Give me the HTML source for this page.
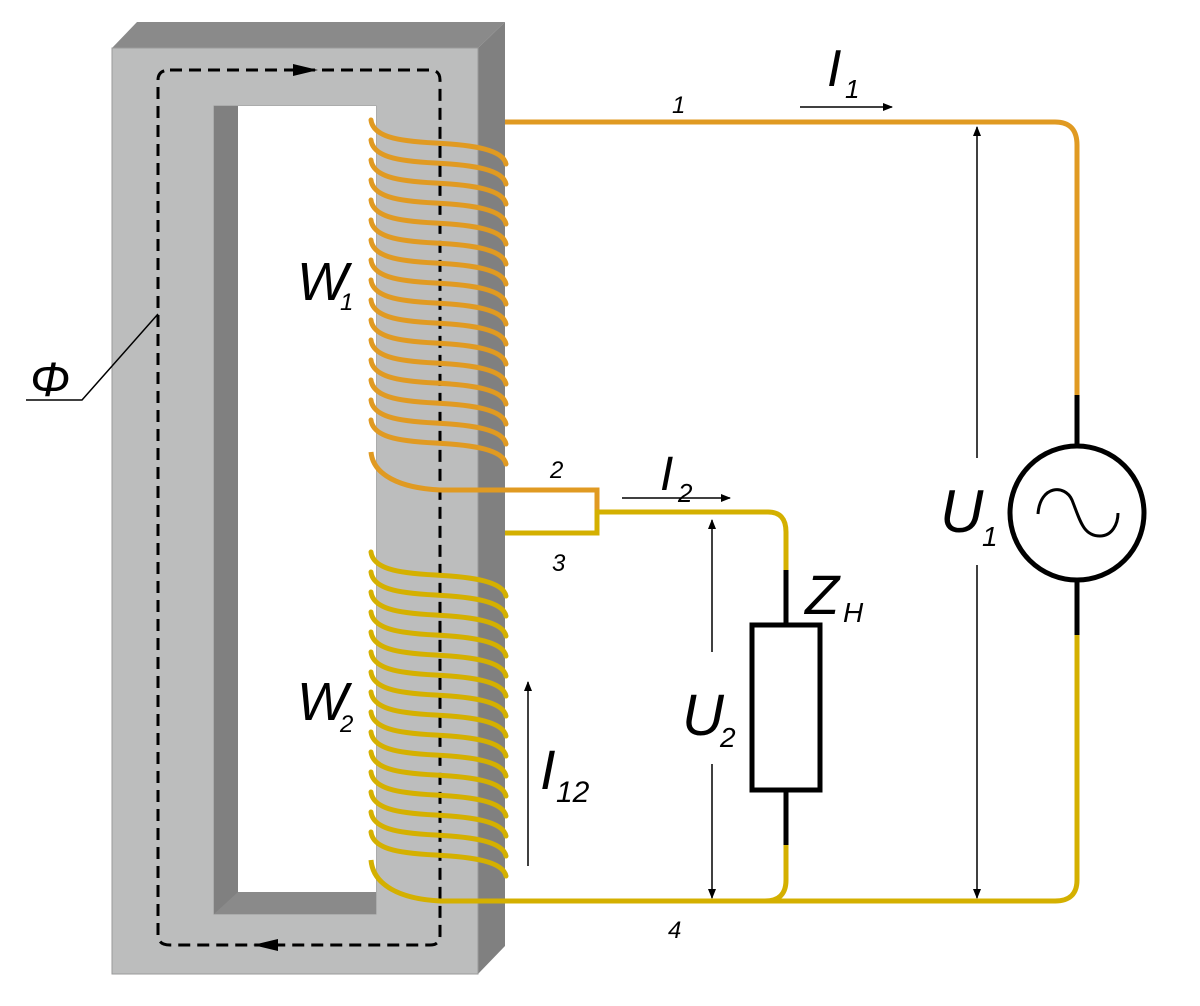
<!DOCTYPE html>
<html><head><meta charset="utf-8"><style>
html,body{margin:0;padding:0;background:#fff}
svg{display:block}
text{font-family:"Liberation Sans",sans-serif;font-style:italic;fill:#000}
</style></head><body>
<svg width="1200" height="1006" viewBox="0 0 1200 1006" xmlns="http://www.w3.org/2000/svg">
<defs>
<marker id="ah" markerWidth="10" markerHeight="8" refX="9" refY="4" orient="auto" markerUnits="userSpaceOnUse"><path d="M0,0 L10,4 L0,8 z" fill="#000"/></marker>
<marker id="ahs" markerWidth="10" markerHeight="8" refX="1" refY="4" orient="auto" markerUnits="userSpaceOnUse"><path d="M10,0 L0,4 L10,8 z" fill="#000"/></marker>
</defs>
<polygon points="112,48 137,22 505,22 478,48" fill="#8a8a8a"/>
<polygon points="478,48 505,22 505,946 478,974" fill="#808080"/>
<path d="M112,48 H478 V974 H112 Z M214,106 V914 H376 V106 Z" fill="#bcbdbd" fill-rule="evenodd" stroke="#9a9a9a" stroke-width="1"/>
<rect x="214" y="106" width="162" height="808" fill="#808080"/>
<polygon points="238,106 376,106 376,892 238,892" fill="#fff"/>
<polygon points="214,914 238,892 376,892 376,914" fill="#8a8a8a"/>
<path d="M170,70 H430 Q440,70 440,80 V935 Q440,945 430,945 H170 Q158,945 158,935 V80 Q158,70 170,70 Z" fill="none" stroke="#000" stroke-width="3" stroke-dasharray="12,7"/>
<polygon points="293,64 318,70 293,76" fill="#000"/>
<polygon points="278,939 253,945 278,951" fill="#000"/>
<g fill="none" stroke="#e09a22" stroke-width="5" stroke-linecap="round">
<path d="M371,120 c2,16 24,21 64,23 c40,2 68,7 71,21 M371,140 c2,16 24,21 64,23 c40,2 68,7 71,21 M371,160 c2,16 24,21 64,23 c40,2 68,7 71,21 M371,180 c2,16 24,21 64,23 c40,2 68,7 71,21 M371,200 c2,16 24,21 64,23 c40,2 68,7 71,21 M371,220 c2,16 24,21 64,23 c40,2 68,7 71,21 M371,240 c2,16 24,21 64,23 c40,2 68,7 71,21 M371,260 c2,16 24,21 64,23 c40,2 68,7 71,21 M371,280 c2,16 24,21 64,23 c40,2 68,7 71,21 M371,300 c2,16 24,21 64,23 c40,2 68,7 71,21 M371,320 c2,16 24,21 64,23 c40,2 68,7 71,21 M371,340 c2,16 24,21 64,23 c40,2 68,7 71,21 M371,360 c2,16 24,21 64,23 c40,2 68,7 71,21 M371,380 c2,16 24,21 64,23 c40,2 68,7 71,21 M371,400 c2,16 24,21 64,23 c40,2 68,7 71,21 M371,420 c2,16 24,21 64,23 c40,2 68,7 71,21"/>
<path d="M371,452 C373,475 400,488 440,490 L597,490 L597,512" stroke-linecap="butt"/>
<path d="M505,122 H1055 Q1077,122 1077,145 V395" stroke-linecap="butt"/>
</g>
<g fill="none" stroke="#d4b000" stroke-width="5" stroke-linecap="round">
<path d="M371,552 c2,16 24,21 64,23 c40,2 68,7 71,21 M371,572 c2,16 24,21 64,23 c40,2 68,7 71,21 M371,592 c2,16 24,21 64,23 c40,2 68,7 71,21 M371,612 c2,16 24,21 64,23 c40,2 68,7 71,21 M371,632 c2,16 24,21 64,23 c40,2 68,7 71,21 M371,652 c2,16 24,21 64,23 c40,2 68,7 71,21 M371,672 c2,16 24,21 64,23 c40,2 68,7 71,21 M371,692 c2,16 24,21 64,23 c40,2 68,7 71,21 M371,712 c2,16 24,21 64,23 c40,2 68,7 71,21 M371,732 c2,16 24,21 64,23 c40,2 68,7 71,21 M371,752 c2,16 24,21 64,23 c40,2 68,7 71,21 M371,772 c2,16 24,21 64,23 c40,2 68,7 71,21 M371,792 c2,16 24,21 64,23 c40,2 68,7 71,21 M371,812 c2,16 24,21 64,23 c40,2 68,7 71,21 M371,832 c2,16 24,21 64,23 c40,2 68,7 71,21"/>
<path d="M371,860 C373,885 400,899 440,901 L1055,901 Q1077,901 1077,880 V635" stroke-linecap="butt"/>
<path d="M505,533 H597 V512 H768 Q786,512 786,532 V570" stroke-linecap="butt"/>
<path d="M786,845 V880 Q786,901 765,901" stroke-linecap="butt"/>
</g>
<g fill="none" stroke="#000" stroke-width="5">
<line x1="1077" y1="395" x2="1077" y2="445"/>
<line x1="1077" y1="580" x2="1077" y2="635"/>
<circle cx="1077" cy="513" r="67"/>
<line x1="786" y1="570" x2="786" y2="625"/>
<rect x="752" y="625" width="68" height="165"/>
<line x1="786" y1="790" x2="786" y2="845"/>
</g>
<path d="M1038,514 C1040,485 1065,484 1072,500 C1080,520 1083,536 1100,536 C1112,536 1118,524 1118,513" fill="none" stroke="#000" stroke-width="3"/>
<g stroke="#000" stroke-width="1.5" fill="none">
<line x1="977" y1="127" x2="977" y2="458" marker-start="url(#ahs)"/>
<line x1="977" y1="565" x2="977" y2="898" marker-end="url(#ah)"/>
<line x1="712" y1="520" x2="712" y2="652" marker-start="url(#ahs)"/>
<line x1="712" y1="764" x2="712" y2="898" marker-end="url(#ah)"/>
<line x1="528" y1="866" x2="528" y2="682" marker-end="url(#ah)"/>
<line x1="800" y1="107" x2="892" y2="107" marker-end="url(#ah)"/>
<line x1="622" y1="498" x2="730" y2="498" marker-end="url(#ah)"/>
<polyline points="26,400 82,400 158,314"/>
</g>
<text x="672" y="113" font-size="24">1</text>
<text x="827" y="86" font-size="52">I</text><text x="845" y="98" font-size="26">1</text>
<text x="550" y="478" font-size="24">2</text>
<text x="552" y="571" font-size="24">3</text>
<text x="668" y="938" font-size="24">4</text>
<text x="660" y="490" font-size="48">I</text><text x="678" y="502" font-size="26">2</text>
<text x="297" y="300" font-size="54">W</text><text x="340" y="310" font-size="24">1</text>
<text x="297" y="720" font-size="54">W</text><text x="340" y="732" font-size="24">2</text>
<text x="30" y="396" font-size="48">Φ</text>
<text x="940" y="532" font-size="60">U</text><text x="982" y="546" font-size="28">1</text>
<text x="682" y="735" font-size="58">U</text><text x="720" y="747" font-size="28">2</text>
<text x="805" y="614" font-size="56">Z</text><text x="843" y="622" font-size="28">H</text>
<text x="540" y="789" font-size="56">I</text><text x="556" y="802" font-size="30">12</text>
</svg>
</body></html>
